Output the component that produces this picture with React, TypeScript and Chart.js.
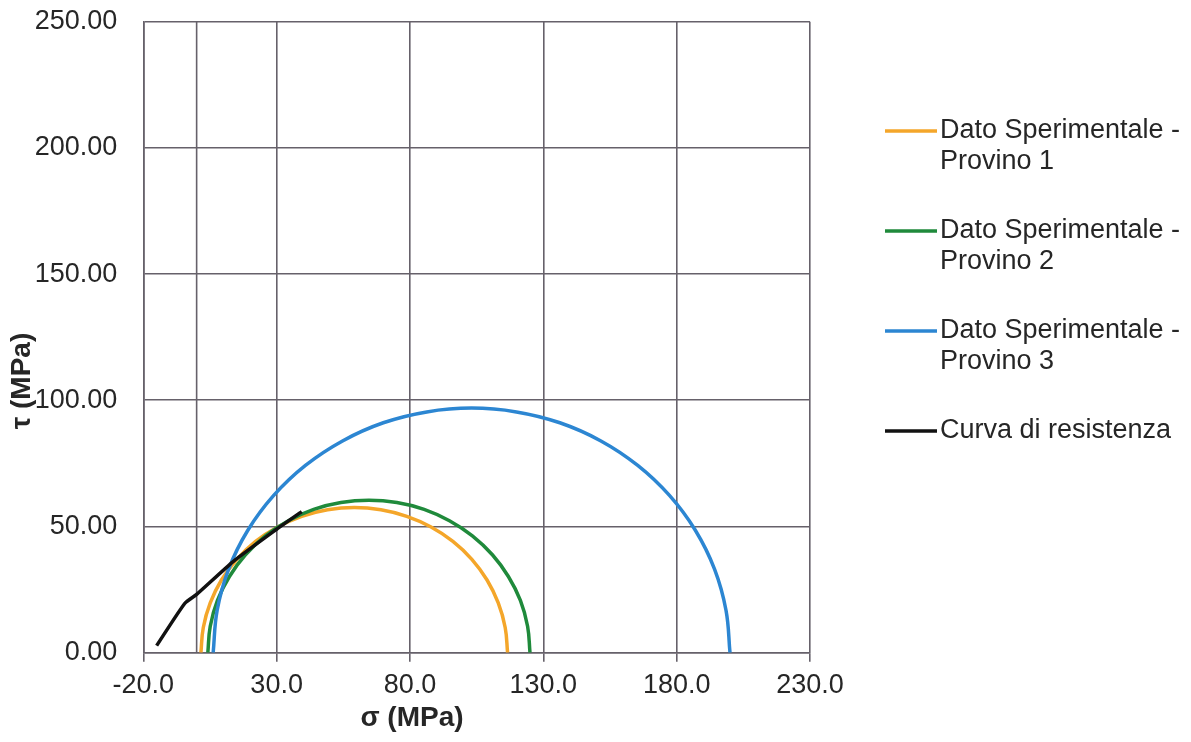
import React, { useEffect, useRef } from "react";
import { Chart, registerables } from "chart.js";

Chart.register(...registerables);

// Mohr circles (σ, τ in MPa)
const SIGMA_P1 = [116.6, 115.7, 113.1, 108.9, 103.2, 96.1, 87.9, 78.8, 69.1, 59.1, 49.1, 39.4, 30.4, 22.1, 15.1, 9.3, 5.1, 2.5, 1.6];
const TAU_P1 = [0, 10.0, 19.7, 28.8, 37.0, 44.1, 49.8, 54.0, 56.6, 57.5, 56.6, 54.0, 49.8, 44.1, 37.0, 28.8, 19.7, 10.0, 0];

const SIGMA_P2 = [125.0, 124.1, 121.4, 116.9, 110.9, 103.4, 94.8, 85.3, 75.1, 64.6, 54.1, 43.9, 34.4, 25.8, 18.3, 12.3, 7.8, 5.1, 4.2];
const TAU_P2 = [0, 10.5, 20.7, 30.2, 38.8, 46.3, 52.3, 56.8, 59.5, 60.4, 59.5, 56.8, 52.3, 46.3, 38.8, 30.2, 20.7, 10.5, 0];

const SIGMA_P3 = [200.0, 198.5, 194.2, 187.0, 177.3, 165.4, 151.6, 136.2, 119.9, 103.1, 86.3, 70.0, 54.7, 40.8, 28.9, 19.2, 12.0, 7.7, 6.2];
const TAU_P3 = [0, 16.8, 33.1, 48.5, 62.3, 74.2, 83.9, 91.1, 95.4, 96.9, 95.4, 91.1, 83.9, 74.2, 62.3, 48.5, 33.1, 16.8, 0];

const SIGMA_CURVE = [-15.0, -4.4, 0, 13.7, 30, 39.4];
const TAU_CURVE = [2.8, 19.6, 23.1, 36.1, 48.9, 55.9];

const LABELS = [
  ["Dato Sperimentale -", "Provino 1"],
  ["Dato Sperimentale -", "Provino 2"],
  ["Dato Sperimentale -", "Provino 3"],
  ["Curva di resistenza"],
];
const COLORS = ["#F4A62A", "#1F8A3B", "#2C86D2", "#111111"];

const X_MIN = -20, X_MAX = 230, X_STEP = 50;
const Y_MIN = 0, Y_MAX = 250, Y_STEP = 50;
const X_TITLE = "σ (MPa)";
const Y_TITLE = "τ (MPa)";

const GRID = "#66616a";
const TEXT = "#262626";
const FONT = "'Liberation Sans', Arial, sans-serif";

const pts = (xs: number[], ys: number[]) => xs.map((x, i) => ({ x, y: ys[i] }));

const extras = {
  id: "extras",
  beforeDatasetsDraw(chart: any) {
    const { ctx, chartArea, scales } = chart;
    const x0 = scales.x.getPixelForValue(0);
    ctx.save();
    ctx.strokeStyle = GRID;
    ctx.lineWidth = 1.6;
    ctx.beginPath();
    ctx.moveTo(x0, chartArea.top);
    ctx.lineTo(x0, chartArea.bottom);
    ctx.stroke();
    ctx.restore();
  },
  afterDraw(chart: any) {
    const { ctx } = chart;
    ctx.save();
    // axis titles
    ctx.fillStyle = TEXT;
    ctx.font = `bold 28px ${FONT}`;
    ctx.textAlign = "center";
    ctx.textBaseline = "middle";
    ctx.fillText(X_TITLE, 412, 718);
    ctx.translate(22, 381);
    ctx.rotate(-Math.PI / 2);
    ctx.fillText(Y_TITLE, 0, 0);
    ctx.restore();

    // legend
    ctx.save();
    ctx.font = `27px ${FONT}`;
    ctx.textAlign = "left";
    ctx.textBaseline = "middle";
    LABELS.forEach((lines, i) => {
      const y = 131 + i * 100;
      ctx.strokeStyle = COLORS[i];
      ctx.lineWidth = 3.5;
      ctx.beginPath();
      ctx.moveTo(885, y);
      ctx.lineTo(937, y);
      ctx.stroke();
      ctx.fillStyle = TEXT;
      lines.forEach((t, j) => ctx.fillText(t, 940, y + j * 31));
    });
    ctx.restore();
  },
};

export default function App() {
  const ref = useRef<HTMLCanvasElement>(null);
  useEffect(() => {
    if (!ref.current) return;
    const mk = (label: string, xs: number[], ys: number[], i: number, tension: number) => ({
      label,
      data: pts(xs, ys),
      showLine: true,
      borderColor: COLORS[i],
      backgroundColor: COLORS[i],
      borderWidth: 3.5,
      pointRadius: 0,
      tension,
      order: 3 - i,
    });
    const chart = new Chart(ref.current, {
      type: "scatter",
      data: {
        datasets: [
          mk(LABELS[0].join(" "), SIGMA_P1, TAU_P1, 0, 0.4),
          mk(LABELS[1].join(" "), SIGMA_P2, TAU_P2, 1, 0.4),
          mk(LABELS[2].join(" "), SIGMA_P3, TAU_P3, 2, 0.4),
          mk(LABELS[3][0], SIGMA_CURVE, TAU_CURVE, 3, 0.2),
        ],
      },
      options: {
        responsive: false,
        animation: false,
        layout: { padding: { top: 21.7, right: 381, left: 0, bottom: 0 } },
        plugins: { legend: { display: false }, tooltip: { enabled: false } },
        scales: {
          x: {
            type: "linear",
            min: X_MIN,
            max: X_MAX,
            afterFit: (s: any) => { s.height = 89.3; s.paddingLeft = 0; s.paddingRight = 0; },
            ticks: {
              stepSize: X_STEP,
              callback: (v: any) => Number(v).toFixed(1),
              font: { size: 27, family: FONT },
              color: TEXT,
              padding: 8,
              maxRotation: 0,
            },
            grid: { color: GRID, lineWidth: 1.6, tickLength: 9, drawTicks: true },
            border: { color: GRID, width: 1.6 },
          },
          y: {
            type: "linear",
            min: Y_MIN,
            max: Y_MAX,
            afterFit: (s: any) => { s.width = 143.3; s.paddingTop = 0; s.paddingBottom = 0; },
            ticks: {
              stepSize: Y_STEP,
              callback: (v: any) => Number(v).toFixed(2),
              font: { size: 27, family: FONT },
              color: TEXT,
              padding: 26,
            },
            grid: { color: GRID, lineWidth: 1.6, drawTicks: false },
            border: { color: GRID, width: 1.6 },
          },
        },
      },
      plugins: [extras],
    });
    return () => chart.destroy();
  }, []);
  return (
    <div style={{ position: "absolute", left: 0, top: 0, width: 1191, height: 742, background: "#fff" }}>
      <canvas ref={ref} width={1191} height={742} style={{ display: "block" }} />
    </div>
  );
}
